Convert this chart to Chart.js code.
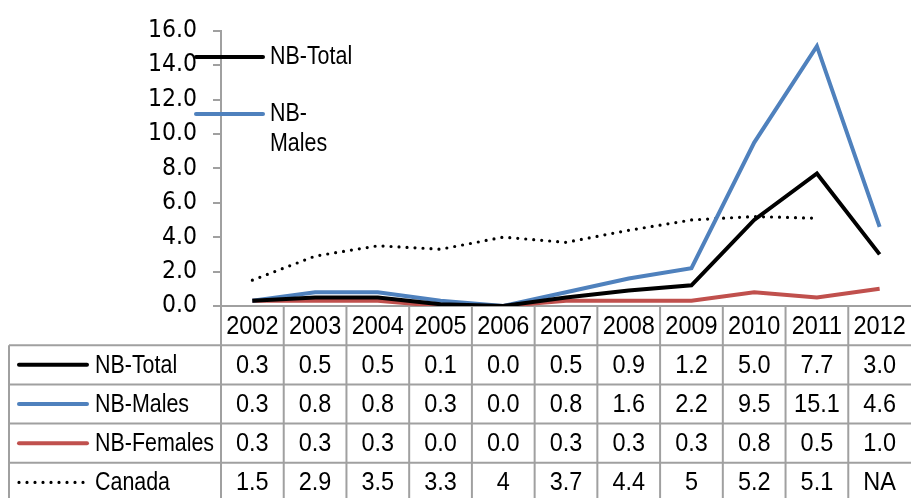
<!DOCTYPE html>
<html>
<head>
<meta charset="utf-8">
<script src="https://cdn.jsdelivr.net/npm/chart.js@4.4.1/dist/chart.umd.min.js"></script>
<style>
  html, body { margin: 0; padding: 0; background: #fff; }
  #wrap { width: 911px; height: 498px; position: relative; }
</style>
</head>
<body>
<div id="wrap"><canvas id="c"></canvas></div>
<script>
const years = ['2002','2003','2004','2005','2006','2007','2008','2009','2010','2011','2012'];
const nbTotal   = [0.3, 0.5, 0.5, 0.1, 0.0, 0.5, 0.9, 1.2, 5.0, 7.7, 3.0];
const nbMales   = [0.3, 0.8, 0.8, 0.3, 0.0, 0.8, 1.6, 2.2, 9.5, 15.1, 4.6];
const nbFemales = [0.3, 0.3, 0.3, 0.0, 0.0, 0.3, 0.3, 0.3, 0.8, 0.5, 1.0];
const canada    = [1.5, 2.9, 3.5, 3.3, 4, 3.7, 4.4, 5, 5.2, 5.1, null];
const seriesNames = ['NB-Total', 'NB-Males', 'NB-Females', 'Canada'];
const tableDecimals = [1, 1, 1, null];

const TEXT_FONT = '25.5px "Liberation Sans", Arial, sans-serif';
const TICK_FONT = '"DejaVu Sans Condensed", "Liberation Sans", sans-serif';
const GRID = '#a0a0a0';
const COLORS = ['#000000', '#4f81bd', '#c0504d', '#000000'];
const NUM_SX = 0.92;   // horizontal squeeze for numbers
const WORD_SX = 0.84;  // narrower squeeze for words

function fmt(v, d) {
  if (v === null || v === undefined) return 'NA';
  return d === null ? String(v) : v.toFixed(d);
}

// draw text squeezed horizontally around its anchor
function fillSqueezed(ctx, text, x, y, align, sx) {
  ctx.save();
  ctx.translate(x, y);
  ctx.scale(sx, 1);
  ctx.textAlign = align;
  ctx.fillText(text, 0, 0);
  ctx.restore();
}

function strokeSample(ctx, i, x0, x1, y) {
  ctx.save();
  ctx.strokeStyle = COLORS[i];
  if (i === 3) {
    ctx.lineWidth = 3.2;
    ctx.lineCap = 'round';
    ctx.setLineDash([0, 8]);
  } else {
    ctx.lineWidth = 4;
    ctx.lineCap = 'round';
  }
  ctx.beginPath();
  ctx.moveTo(x0, y);
  ctx.lineTo(x1, y);
  ctx.stroke();
  ctx.restore();
}

// Data table under the plot plus the small in-plot legend
const tablePlugin = {
  id: 'dataTable',
  afterDraw(chart) {
    const ctx = chart.ctx;
    const xs = chart.scales.x;
    const area = chart.chartArea;
    const n = years.length;
    const colW = (area.right - area.left) / n;
    const rowH = 39.2;
    const top = area.bottom;
    const tableLeft = 9;
    const bottom = top + rowH * 5;

    ctx.save();
    ctx.strokeStyle = GRID;
    ctx.lineWidth = 2;
    for (let r = 1; r <= 5; r++) {
      const y = top + rowH * r;
      ctx.beginPath();
      ctx.moveTo(tableLeft, y);
      ctx.lineTo(area.right, y);
      ctx.stroke();
    }
    ctx.beginPath();
    ctx.moveTo(tableLeft, top + rowH);
    ctx.lineTo(tableLeft, bottom);
    ctx.stroke();
    for (let i = 0; i < n; i++) {
      const x = xs.getPixelForValue(i) - colW / 2;
      ctx.beginPath();
      ctx.moveTo(x, top);
      ctx.lineTo(x, bottom);
      ctx.stroke();
    }

    ctx.fillStyle = '#000';
    ctx.font = TEXT_FONT;
    ctx.textBaseline = 'middle';
    years.forEach((yr, i) => {
      fillSqueezed(ctx, yr, xs.getPixelForValue(i), top + rowH / 2 + 1, 'center', NUM_SX);
    });
    const rows = [nbTotal, nbMales, nbFemales, canada];
    rows.forEach((vals, r) => {
      const cy = top + rowH * (r + 1) + rowH / 2 + 1;
      vals.forEach((v, i) => {
        fillSqueezed(ctx, fmt(v, tableDecimals[r]), xs.getPixelForValue(i), cy, 'center', NUM_SX);
      });
      strokeSample(ctx, r, 19, 87, cy - 1);
      fillSqueezed(ctx, seriesNames[r], 95, cy, 'left', WORD_SX);
    });

    // in-plot legend
    strokeSample(ctx, 0, 196, 263, 57);
    strokeSample(ctx, 1, 196, 263, 114);
    fillSqueezed(ctx, 'NB-Total', 270, 57, 'left', WORD_SX);
    fillSqueezed(ctx, 'NB-', 270, 114, 'left', WORD_SX);
    fillSqueezed(ctx, 'Males', 270, 144, 'left', WORD_SX);
    ctx.restore();
  }
};

new Chart(document.getElementById('c'), {
  type: 'line',
  data: {
    labels: years,
    datasets: [
      { label: seriesNames[0], data: nbTotal, borderColor: COLORS[0], borderWidth: 4 },
      { label: seriesNames[1], data: nbMales, borderColor: COLORS[1], borderWidth: 4 },
      { label: seriesNames[2], data: nbFemales, borderColor: COLORS[2], borderWidth: 4 },
      { label: seriesNames[3], data: canada, borderColor: COLORS[3], borderWidth: 3.2,
        borderDash: [0, 8], borderCapStyle: 'round', spanGaps: false }
    ]
  },
  options: {
    responsive: true,
    maintainAspectRatio: false,
    animation: false,
    elements: {
      point: { radius: 0, hoverRadius: 0 },
      line: { tension: 0, borderJoinStyle: 'miter' }
    },
    layout: { padding: { top: 24, right: 0, left: 0, bottom: 0 } },
    plugins: { legend: { display: false }, tooltip: { enabled: false } },
    scales: {
      x: {
        offset: true,
        grid: { display: false },
        ticks: { display: false },
        border: { display: true, color: GRID, width: 2 },
        afterFit(s) { s.height = 192; }
      },
      y: {
        min: 0,
        max: 16,
        ticks: {
          stepSize: 2,
          color: '#000',
          padding: 16,
          font: { family: TICK_FONT, size: 24.5 },
          callback: v => Number(v).toFixed(1)
        },
        grid: { display: true, drawOnChartArea: false, drawTicks: true, tickLength: 8, color: GRID, lineWidth: 2 },
        border: { display: true, color: GRID, width: 2 },
        afterFit(s) { s.width = 221; }
      }
    }
  },
  plugins: [tablePlugin]
});
</script>
</body>
</html>
